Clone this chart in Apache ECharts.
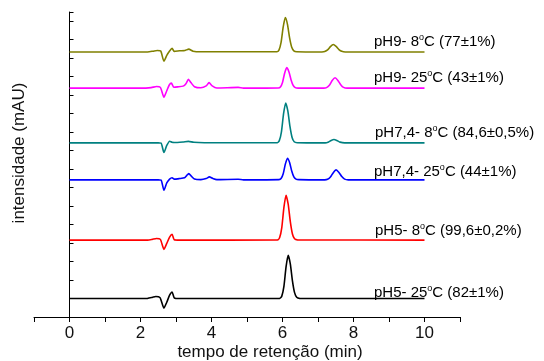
<!DOCTYPE html>
<html>
<head>
<meta charset="utf-8">
<script src="https://cdn.jsdelivr.net/npm/echarts@6/dist/echarts.min.js"></script>
<style>
  html, body { margin: 0; padding: 0; background: #fff; }
  #chart { width: 544px; height: 361px; }
</style>
</head>
<body>
<div id="chart"></div>
<script>
// cromatogramas empilhados, [tempo (min), intensidade]
const pH9_8C = [
  [0, 143.4], [2.2, 143.4], [2.35, 143.8], [2.47, 144.2], [2.57, 143.9], [2.66, 138.4], [2.74, 141.5],
  [2.82, 143.9], [2.89, 145.3], [2.95, 143.7], [3.1, 144.0], [3.25, 144.2], [3.36, 144.9], [3.48, 143.8],
  [3.7, 143.5], [5.84, 143.5], [5.90, 144.4], [5.96, 148.6], [6.02, 157.0], [6.08, 162.0], [6.14, 158.3],
  [6.20, 151.0], [6.26, 145.9], [6.32, 144.0], [6.40, 143.5], [7.11, 143.4], [7.19, 143.6], [7.27, 144.5],
  [7.35, 146.3], [7.43, 147.4], [7.51, 146.4], [7.59, 144.7], [7.67, 143.7], [7.77, 143.4], [10, 143.4]
]
const pH9_25C = [
  [0, 123.8], [2.0, 123.8], [2.3, 124.1], [2.45, 124.7], [2.56, 124.2], [2.66, 118.9], [2.74, 122.4],
  [2.81, 125.5], [2.87, 126.5], [2.94, 124.3], [3.05, 124.5], [3.2, 124.9], [3.28, 126.2], [3.35, 128.6],
  [3.42, 126.8], [3.52, 124.6], [3.7, 124.0], [3.85, 125.0], [3.93, 126.8], [4.02, 125.0], [4.15, 123.9],
  [4.75, 124.2], [4.9, 123.8], [5.88, 123.9], [5.94, 124.4], [6.00, 126.9], [6.06, 131.9], [6.12, 134.9],
  [6.18, 132.7], [6.24, 128.4], [6.30, 125.3], [6.36, 124.1], [6.44, 123.8], [7.16, 123.8], [7.24, 124.1],
  [7.32, 125.4], [7.40, 127.9], [7.48, 129.4], [7.56, 128.0], [7.64, 125.7], [7.72, 124.2], [7.82, 123.8],
  [10, 123.8]
]
const pH74_8C = [
  [0, 94.2], [2.5, 94.2], [2.58, 94.1], [2.66, 89.0], [2.74, 92.8], [2.82, 95.1], [2.89, 94.5],
  [2.95, 94.4], [3.2, 94.7], [3.35, 95.0], [3.5, 94.5], [3.8, 94.3], [5.85, 94.3], [5.91, 95.4],
  [5.97, 100.2], [6.03, 110.0], [6.09, 115.8], [6.15, 111.5], [6.21, 103.1], [6.27, 97.1], [6.33, 94.8],
  [6.41, 94.3], [7.2, 94.2], [7.3, 94.7], [7.37, 95.5], [7.45, 96.0], [7.53, 95.5], [7.62, 94.6],
  [7.75, 94.2], [10, 94.2]
]
const pH74_25C = [
  [0, 74.2], [2.5, 74.2], [2.58, 74.1], [2.66, 68.6], [2.74, 72.5], [2.82, 74.6], [2.89, 75.3],
  [2.95, 74.6], [3.1, 74.9], [3.24, 75.3], [3.30, 76.5], [3.36, 77.6], [3.43, 76.2], [3.52, 74.6],
  [3.7, 74.3], [3.85, 74.9], [3.94, 75.8], [4.03, 75.0], [4.15, 74.3], [4.75, 74.5], [4.9, 74.2],
  [5.90, 74.3], [5.96, 74.9], [6.02, 77.5], [6.08, 82.7], [6.14, 85.9], [6.20, 83.6], [6.26, 79.0],
  [6.32, 75.8], [6.38, 74.6], [6.46, 74.3], [7.19, 74.2], [7.27, 74.5], [7.35, 75.7], [7.43, 78.1],
  [7.51, 79.6], [7.59, 78.2], [7.67, 76.0], [7.75, 74.6], [7.85, 74.2], [10, 74.2]
]
const pH5_8C = [
  [0, 41.6], [2.2, 41.6], [2.33, 42.0], [2.45, 42.5], [2.56, 42.0], [2.66, 36.6], [2.74, 39.8],
  [2.82, 43.2], [2.89, 44.7], [2.95, 41.8], [3.1, 41.6], [5.86, 41.7], [5.92, 43.0], [5.98, 48.4],
  [6.04, 59.3], [6.10, 65.9], [6.16, 61.0], [6.22, 51.6], [6.28, 44.9], [6.34, 42.3], [6.42, 41.7],
  [10, 41.6]
]
const pH5_25C = [
  [0, 10.0], [2.2, 10.1], [2.33, 10.6], [2.43, 11.1], [2.55, 10.5], [2.66, 4.8], [2.74, 8.0],
  [2.82, 11.8], [2.89, 13.5], [2.95, 10.4], [3.1, 10.0], [5.92, 10.1], [5.98, 11.3], [6.04, 16.6],
  [6.10, 27.1], [6.16, 33.4], [6.22, 28.7], [6.28, 19.6], [6.34, 13.2], [6.40, 10.7], [6.48, 10.1],
  [10, 10.0]
]

const curvas      = [pH9_8C, pH9_25C, pH74_8C, pH74_25C, pH5_8C, pH5_25C]
const condicoes   = ['pH9- 8', 'pH9- 25', 'pH7,4- 8', 'pH7,4- 25', 'pH5- 8', 'pH5- 25']
const rendimentos = ['(77±1%)', '(43±1%)', '(84,6±0,5%)', '(44±1%)', '(99,6±0,2%)', '(82±1%)']
const cores       = ['#808000', '#ff00ff', '#008080', '#0000ff', '#ff0000', '#000000']
const xTicks      = [0, 2, 4, 6, 8, 10]

// label anchor (px) per curve
const labelPos = [[374, 42], [374, 78], [375, 133], [374, 172], [375, 231], [374, 293]]

const FONT = '"Liberation Sans", Arial, Helvetica, sans-serif'
const chart = echarts.init(document.getElementById('chart'), null, { renderer: 'canvas' })

const textStyleRich = {
  n: { fontFamily: FONT, fontSize: 15, color: '#111', lineHeight: 18 },
  s: { fontFamily: FONT, fontSize: 9, color: '#111', lineHeight: 18, verticalAlign: 'top' }
}

chart.setOption({
  backgroundColor: '#fff',
  animation: false,
  grid: { left: 34, right: 84, top: 12, bottom: 44 },
  xAxis: {
    type: 'value', min: -1, max: 11, interval: 1,
    axisLine: { show: true, lineStyle: { color: '#000', width: 1 } },
    axisTick: { show: true, inside: false, length: 5, lineStyle: { color: '#000' } },
    axisLabel: {
      color: '#111', fontFamily: FONT, fontSize: 17, margin: 8,
      formatter: v => xTicks.includes(v) ? String(v) : ''
    },
    splitLine: { show: false }
  },
  yAxis: {
    type: 'value', min: 0, max: 165, interval: 10,
    axisLine: { show: true, lineStyle: { color: '#000', width: 1 } },
    axisTick: { show: true, inside: true, length: 4, lineStyle: { color: '#000' } },
    axisLabel: { show: false },
    splitLine: { show: false }
  },
  series: curvas.map((d, i) => ({
    type: 'line', data: d, symbol: 'none', smooth: 0.2,
    lineStyle: { color: cores[i], width: 1.6 }
  })),
  graphic: [
    ...condicoes.map((c, i) => ({
      type: 'text', left: labelPos[i][0], top: labelPos[i][1] - 9,
      style: { text: `{n|${c}}{s|o}{n|C ${rendimentos[i]}}`, rich: textStyleRich }
    })),
    {
      type: 'text', x: 270, y: 352,
      style: { text: 'tempo de retenção (min)', fontFamily: FONT, fontSize: 17, fill: '#111',
               align: 'center', verticalAlign: 'middle' }
    },
    {
      type: 'text', rotation: Math.PI / 2, x: 19, y: 153,
      style: { text: 'intensidade (mAU)', fontFamily: FONT, fontSize: 17, fill: '#111',
               align: 'center', verticalAlign: 'middle' }
    }
  ]
})
</script>
</body>
</html>
